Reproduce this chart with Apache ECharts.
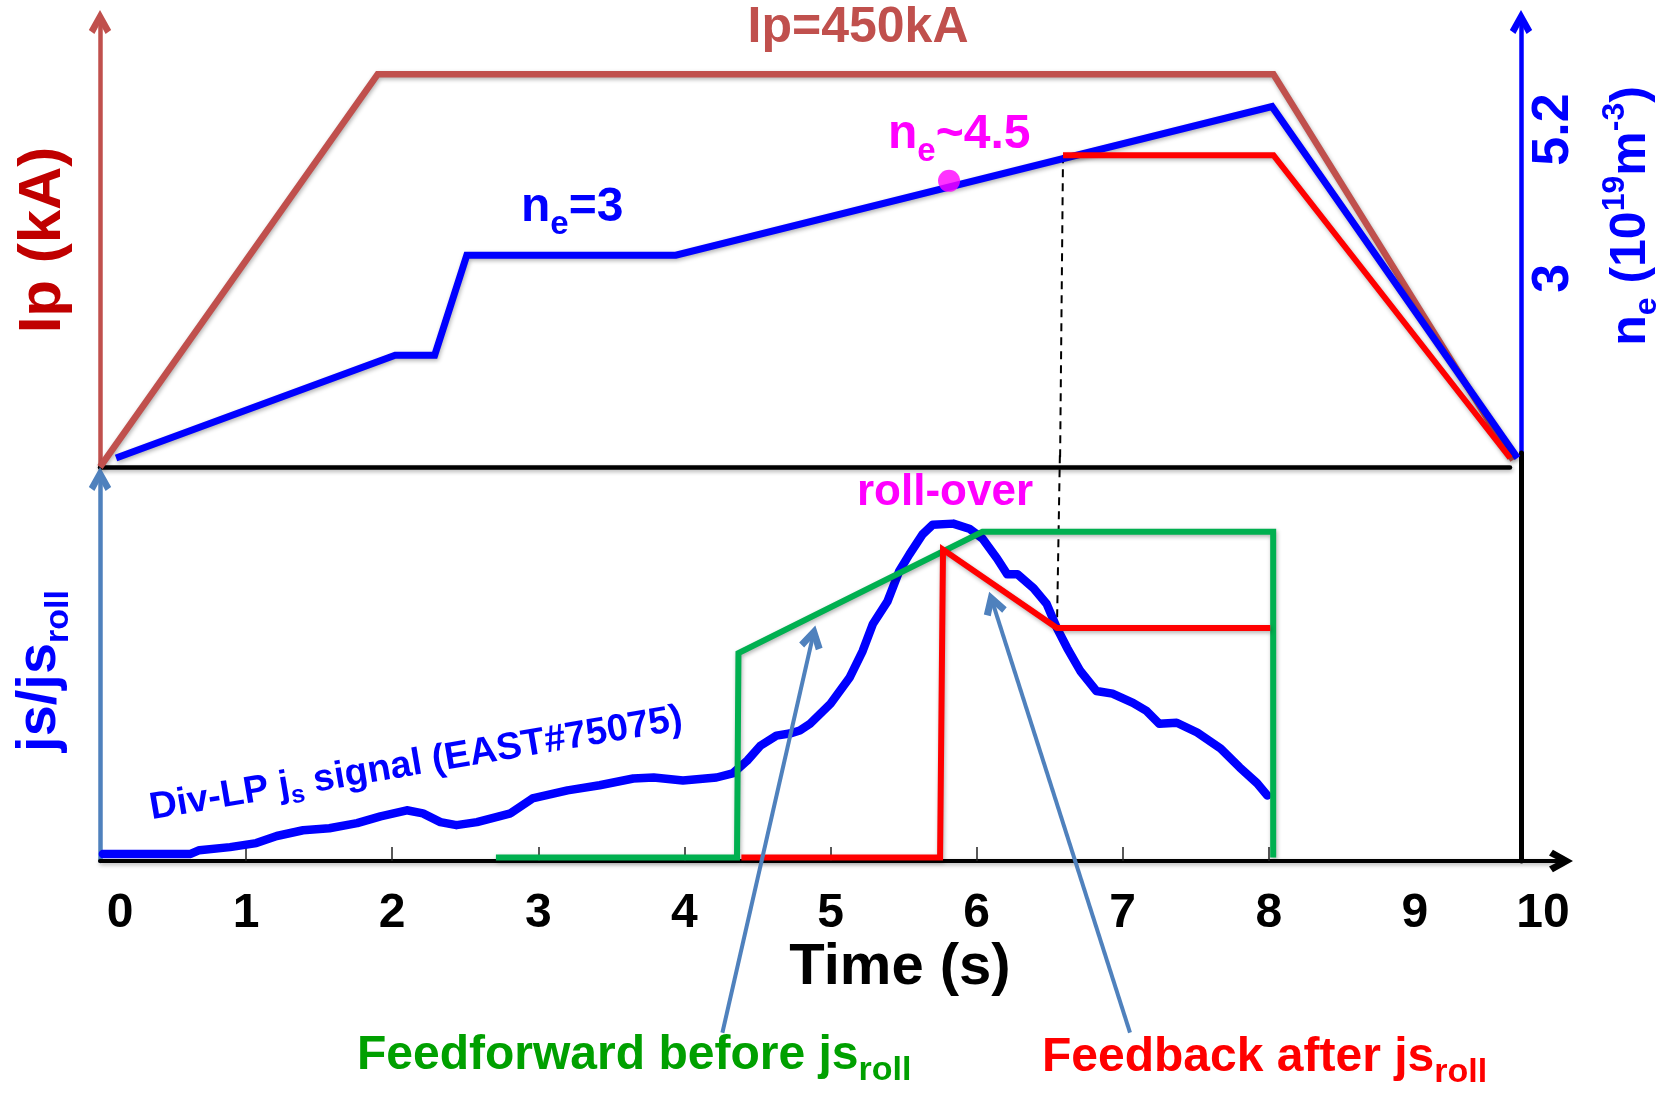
<!DOCTYPE html>
<html>
<head>
<meta charset="utf-8">
<script src="https://cdn.jsdelivr.net/npm/echarts@6/dist/echarts.min.js"></script>
<style>
  html, body { margin: 0; padding: 0; background: #ffffff; }
  #chart { width: 1669px; height: 1094px; }
</style>
</head>
<body>
<div id="chart"></div>
<script>
// ---------- shared time axis (s) ----------
const timeLabels     = [0, 1, 2, 3, 4, 5, 6, 7, 8, 9, 10];
const timeTickMarks  = [1, 2, 3, 4, 5, 6, 7, 8];
const frameEndTime   = 9.724;   // right-hand frame of the upper panel

// ---------- upper panel: plasma current programme (kA) ----------
const ipTime  = [0, 1.90, 8.03, 9.67];
const ipValue = [0, 450, 450, 8];

// ---------- upper panel: density programme (10^19 m^-3) ----------
const neTime  = [0.11, 2.02, 2.29, 2.51, 3.94, 8.02, 9.70];
const neValue = [0, 1.52, 1.52, 3.0, 3.0, 5.2, 0];
// density held by feedback after roll-over
const neHoldTime  = [6.59, 8.03, 9.65];
const neHoldValue = [4.48, 4.48, 0];
const neTickValues = [3, 5.2];
// marker on the density ramp at roll-over
const rollOverPoint = [5.81, 4.1];
// time where the controller switches to feedback
const switchTime = 6.57;

// ---------- lower panel: divertor Langmuir-probe js / js_roll ----------
const jsTime = [0.02, 0.62, 0.68, 0.89, 1.07, 1.21, 1.39, 1.57, 1.76, 1.92,
                2.10, 2.21, 2.33, 2.44, 2.58, 2.81, 2.96, 3.20, 3.42, 3.65,
                3.79, 3.99, 4.22, 4.33, 4.43, 4.52, 4.63, 4.72, 4.79, 4.86,
                5.00, 5.13, 5.22, 5.29, 5.39, 5.47, 5.54, 5.63, 5.70, 5.84,
                5.95, 6.04, 6.14, 6.21, 6.28, 6.39, 6.48, 6.55, 6.62, 6.71,
                6.82, 6.93, 7.07, 7.16, 7.25, 7.37, 7.51, 7.67, 7.80, 7.92, 7.99];
const jsValue = [0.021, 0.021, 0.032, 0.041, 0.053, 0.074, 0.091, 0.097, 0.112, 0.132,
                 0.150, 0.141, 0.115, 0.106, 0.115, 0.141, 0.185, 0.209, 0.224, 0.244,
                 0.247, 0.238, 0.247, 0.259, 0.297, 0.341, 0.371, 0.377, 0.386, 0.406,
                 0.465, 0.542, 0.621, 0.701, 0.768, 0.857, 0.907, 0.966, 0.995, 0.998,
                 0.983, 0.954, 0.895, 0.848, 0.848, 0.807, 0.760, 0.689, 0.630, 0.562,
                 0.503, 0.495, 0.468, 0.445, 0.406, 0.409, 0.380, 0.333, 0.277, 0.230, 0.194];

// feedforward request (before roll-over)
const ffTime  = [2.71, 4.36, 4.37, 6.04, 8.03, 8.03];
const ffValue = [0.01, 0.01, 0.615, 0.974, 0.974, 0.01];
// feedback request (after roll-over)
const fbTime  = [4.39, 5.75, 5.77, 6.55, 8.01];
const fbValue = [0.01, 0.01, 0.921, 0.689, 0.689];

// pointer arrows from the captions to the two request curves (time, js/js_roll)
const feedforwardPointer = [[4.26, -0.508], [4.878, 0.662]];
const feedbackPointer    = [[7.05, -0.508], [6.111, 0.763]];

// ---------- helpers ----------
const FONT = "'Liberation Sans', Arial, sans-serif";
// open arrow head (chevron) pointing up; ECharts turns it along the line
const CHEVRON = 'path://M0,18 L10,0 L20,18 L15,21.5 L10,12 L5,21.5 Z';
const pairs = (xs, ys) => xs.map((x, i) => [x, ys[i]]);
const SHADOW = { shadowColor: 'rgba(0,0,0,0.3)', shadowBlur: 4, shadowOffsetX: 1, shadowOffsetY: 2 };

const tok = (size, color, extra) =>
  Object.assign({ fontSize: size, fontWeight: 'bold', fontFamily: FONT, fill: color }, extra || {});

function textEl(x, y, text, rich, opts) {
  const o = opts || {};
  return {
    type: 'text', x: x, y: y, z: 100, silent: true,
    rotation: o.rotation || 0,
    style: { text: text, rich: rich, align: o.align || 'left', verticalAlign: 'middle' }
  };
}
function subRich(main, sub, color, mainLH) {
  return {
    m: tok(main, color, { lineHeight: mainLH }),
    s: tok(sub, color, { lineHeight: sub, verticalAlign: 'bottom' }),
    p: tok(sub, color, { lineHeight: sub, verticalAlign: 'top' })
  };
}

const hiddenAxis = (extra) => Object.assign({
  type: 'value', show: true,
  axisLine: { show: false }, axisTick: { show: false },
  axisLabel: { show: false }, splitLine: { show: false }
}, extra);

const chart = echarts.init(document.getElementById('chart'), null, { renderer: 'canvas' });

const noBounds = { containLabel: false, outerBoundsMode: 'none' };
const ARROW_SIZE = [26, 24];

const option = {
  animation: false,
  backgroundColor: '#ffffff',
  grid: [
    Object.assign({ left: 100, right: 148, top: 22, bottom: 627 }, noBounds), // 0: Ip
    Object.assign({ left: 100, right: 148, top: 22, bottom: 636 }, noBounds), // 1: ne
    Object.assign({ left: 100, right: 108, top: 479, bottom: 233 }, noBounds), // 2: js
    Object.assign({ left: 100, right: 159, top: 22, bottom: 627 }, noBounds), // 3: upper baseline
    Object.assign({ left: 100, right: 148, top: 453, bottom: 233 }, noBounds)  // 4: right frame
  ],
  xAxis: [
    hiddenAxis({ gridIndex: 0, min: 0, max: frameEndTime }),
    hiddenAxis({ gridIndex: 1, min: 0, max: frameEndTime }),
    {
      type: 'value', gridIndex: 2, min: 0, max: 10, interval: 1,
      axisLine: { show: true, onZero: true, symbol: ['none', CHEVRON], symbolSize: ARROW_SIZE,
                  lineStyle: Object.assign({ color: '#000000', width: 4 }, SHADOW) },
      axisTick: { show: true, inside: true, length: 14, customValues: timeTickMarks,
                  lineStyle: { color: '#222222', width: 1.5 } },
      axisLabel: {
        show: true, margin: 29, color: '#000000',
        fontSize: 48, fontWeight: 'bold', fontFamily: FONT,
        formatter: function (v) {
          if (v === timeLabels[0]) return '{z|' + v + '}';
          if (v === timeLabels[timeLabels.length - 1]) return '{t|' + v + '}';
          return '{n|' + v + '}';
        },
        rich: {
          n: { fontSize: 48, fontWeight: 'bold', fontFamily: FONT, color: '#000000' },
          z: { fontSize: 48, fontWeight: 'bold', fontFamily: FONT, color: '#000000', padding: [0, 0, 0, 40] },
          t: { fontSize: 48, fontWeight: 'bold', fontFamily: FONT, color: '#000000', padding: [0, 36, 0, 0] }
        }
      },
      splitLine: { show: false }
    },
    {
      type: 'value', gridIndex: 3, min: 0, max: 1,
      axisLine: { show: true, lineStyle: Object.assign({ color: '#000000', width: 4.5 }, SHADOW) },
      axisTick: { show: false }, axisLabel: { show: false }, splitLine: { show: false }
    },
    hiddenAxis({ gridIndex: 4, min: 0, max: 1 })
  ],
  yAxis: [
    {
      type: 'value', gridIndex: 0, min: 0, max: 510,
      axisLine: { show: true, onZero: true, symbol: ['none', CHEVRON], symbolSize: ARROW_SIZE,
                  lineStyle: { color: '#C0504D', width: 4.5 } },
      axisTick: { show: false }, axisLabel: { show: false }, splitLine: { show: false }
    },
    {
      type: 'value', gridIndex: 1, min: 0, max: 6.45, position: 'right',
      axisLine: { show: true, onZero: false, symbol: ['none', CHEVRON], symbolSize: ARROW_SIZE,
                  lineStyle: { color: '#0000FF', width: 4.5 } },
      axisTick: { show: false },
      axisLabel: {
        show: true, customValues: neTickValues, rotate: 90, margin: 33,
        color: '#0000FF', fontSize: 52, fontWeight: 'bold', fontFamily: FONT,
        align: 'center', verticalAlign: 'middle', padding: [0, 46, 0, 0]
      },
      splitLine: { show: false }
    },
    {
      type: 'value', gridIndex: 2, min: 0, max: 1.13,
      axisLine: { show: true, onZero: true, symbol: ['none', CHEVRON], symbolSize: ARROW_SIZE,
                  lineStyle: { color: '#4F81BD', width: 4.5 } },
      axisTick: { show: false }, axisLabel: { show: false }, splitLine: { show: false }
    },
    hiddenAxis({ gridIndex: 3, min: 0, max: 1 }),
    {
      type: 'value', gridIndex: 4, min: 0, max: 1, position: 'right',
      axisLine: { show: true, onZero: false, lineStyle: { color: '#000000', width: 5 } },
      axisTick: { show: false }, axisLabel: { show: false }, splitLine: { show: false }
    }
  ],
  series: [
    // ---- upper panel ----
    {
      name: 'Ip', type: 'line', xAxisIndex: 0, yAxisIndex: 0, clip: false,
      symbol: 'none', showSymbol: false, z: 2,
      lineStyle: Object.assign({ color: '#C0504D', width: 6.5, join: 'miter', cap: 'butt' }, SHADOW),
      data: pairs(ipTime, ipValue)
    },
    {
      name: 'ne feedforward', type: 'line', xAxisIndex: 1, yAxisIndex: 1, clip: false,
      symbol: 'none', showSymbol: false, z: 3,
      lineStyle: Object.assign({ color: '#0000FF', width: 7, join: 'miter', cap: 'butt' }, SHADOW),
      data: pairs(neTime, neValue)
    },
    {
      name: 'ne feedback', type: 'line', xAxisIndex: 1, yAxisIndex: 1, clip: false,
      symbol: 'none', showSymbol: false, z: 4,
      lineStyle: Object.assign({ color: '#FF0000', width: 6, join: 'miter', cap: 'butt' }, SHADOW),
      data: pairs(neHoldTime, neHoldValue)
    },
    {
      name: 'switch upper', type: 'line', xAxisIndex: 1, yAxisIndex: 1, clip: false,
      symbol: 'none', showSymbol: false, z: 1,
      lineStyle: { color: '#000000', width: 2, type: [8, 6] },
      data: [[neHoldTime[0], neHoldValue[0]], [switchTime, 0]]
    },
    {
      name: 'roll-over marker', type: 'scatter', xAxisIndex: 1, yAxisIndex: 1, clip: false,
      symbol: 'circle', symbolSize: 22, z: 6,
      itemStyle: { color: '#FF00FF' },
      data: [rollOverPoint]
    },
    // ---- lower panel ----
    {
      name: 'switch lower', type: 'line', xAxisIndex: 2, yAxisIndex: 2, clip: false,
      symbol: 'none', showSymbol: false, z: 1,
      lineStyle: { color: '#000000', width: 2, type: [8, 6] },
      data: [[switchTime, 1.2], [fbTime[3], fbValue[3]]]
    },
    {
      name: 'Div-LP js', type: 'line', xAxisIndex: 2, yAxisIndex: 2, clip: false,
      symbol: 'none', showSymbol: false, z: 3,
      lineStyle: { color: '#0000FF', width: 8.5, join: 'round', cap: 'round' },
      data: pairs(jsTime, jsValue)
    },
    {
      name: 'feedforward', type: 'line', xAxisIndex: 2, yAxisIndex: 2, clip: false,
      symbol: 'none', showSymbol: false, z: 4,
      lineStyle: Object.assign({ color: '#00B050', width: 6, join: 'miter', cap: 'butt' }, SHADOW),
      data: pairs(ffTime, ffValue)
    },
    {
      name: 'feedback', type: 'line', xAxisIndex: 2, yAxisIndex: 2, clip: false,
      symbol: 'none', showSymbol: false, z: 5,
      lineStyle: Object.assign({ color: '#FF0000', width: 6, join: 'miter', cap: 'butt' }, SHADOW),
      data: pairs(fbTime, fbValue)
    },
    {
      name: 'pointers', type: 'lines', coordinateSystem: 'cartesian2d',
      xAxisIndex: 2, yAxisIndex: 2, clip: false, z: 7,
      symbol: ['none', CHEVRON], symbolSize: ARROW_SIZE,
      lineStyle: { color: '#4F81BD', width: 4, opacity: 1, curveness: 0 },
      data: [{ coords: feedforwardPointer }, { coords: feedbackPointer }]
    }
  ],
  graphic: [
    textEl(858, 28, '{a|Ip=450kA}', { a: tok(50, '#C0504D') }, { align: 'center' }),
    textEl(43, 240, '{a|Ip (kA)}', { a: tok(60, '#C00000') }, { align: 'center', rotation: Math.PI / 2 }),
    textEl(1631, 216, '{m|n}{s|e}{m| (10}{p|19}{m|m}{p|-3}{m|)}',
           subRich(50, 32, '#0000FF', 64), { align: 'center', rotation: Math.PI / 2 }),
    textEl(521, 208, '{m|n}{s|e}{m|=3}', subRich(48, 33, '#0000FF', 66)),
    textEl(888, 135, '{m|n}{s|e}{m|~4.5}', subRich(48, 33, '#FF00FF', 66)),
    textEl(945, 493, '{a|roll-over}', { a: tok(44, '#FF00FF') }, { align: 'center' }),
    textEl(150, 809, '{m|Div-LP j}{s|s}{m| signal (EAST#75075)}',
           subRich(38, 25, '#0000FF', 48), { rotation: 0.1676 }),
    textEl(40, 671, '{m|js/js}{s|roll}', subRich(56, 34, '#0000FF', 72),
           { align: 'center', rotation: Math.PI / 2 }),
    textEl(900, 968, '{a|Time (s)}', { a: tok(58, '#000000') }, { align: 'center' }),
    textEl(357, 1056, '{m|Feedforward before js}{s|roll}', subRich(48, 34, '#00A000', 64)),
    textEl(1042, 1058, '{m|Feedback after js}{s|roll}', subRich(48, 34, '#FF0000', 64))
  ]
};

chart.setOption(option);
</script>
</body>
</html>
